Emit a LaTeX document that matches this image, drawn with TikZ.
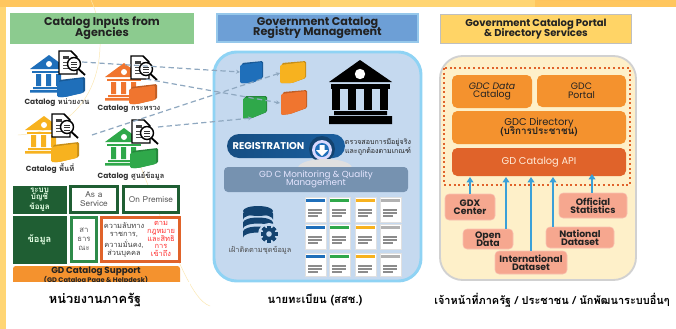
\documentclass[tikz,border=0pt]{standalone}
\usepackage{fontspec}
\setmainfont{Loma}[Script=Thai]
\newfontfamily\hd{Poppins}
\newfontfamily\thf{Loma}[Script=Thai]
\usetikzlibrary{arrows.meta,shapes.geometric}
\definecolor{dgreen}{HTML}{1F5E33}
\definecolor{mgreen}{HTML}{2E8B4A}
\definecolor{apiorange}{HTML}{E0632A}
\definecolor{boxorange}{HTML}{F4922E}
\definecolor{salmon}{HTML}{F6A78F}
\definecolor{arrowblue}{HTML}{3AA0D8}
\definecolor{bluec}{HTML}{1F6FBA}
\definecolor{orangec}{HTML}{F0752F}
\definecolor{yellowc}{HTML}{F7B21F}
\definecolor{greenc}{HTML}{2FA84A}
\definecolor{txt}{HTML}{222222}
\definecolor{hgreen}{HTML}{8CCB8F}
\definecolor{hblue}{HTML}{6D9FD6}
\definecolor{hblueb}{HTML}{96C8EB}
\definecolor{hyellow}{HTML}{FFD466}
\definecolor{pblue}{HTML}{C5D9EF}
\definecolor{pblueb}{HTML}{8FD3F4}
\definecolor{pcream}{HTML}{FEF0C9}
\definecolor{monc}{HTML}{7692B0}
\definecolor{dashc}{HTML}{8FA8C0}
\definecolor{bandA}{HTML}{FFC65E}
\definecolor{bandB}{HTML}{FFD573}
\definecolor{bandC}{HTML}{FFBE55}
\definecolor{faintc}{HTML}{FBE7B0}
\tikzset{
 hdbox/.style={draw=#1,line width=1pt,text=txt,align=center,font=\hd\bfseries\fontsize{8.4}{9}\selectfont,inner sep=0pt},
 gridbox/.style={draw=#1,line width=1.6pt,fill=white,align=center,text=black!65,inner sep=0pt,font=\thf\fontsize{6.2}{6.8}\selectfont},
 solidbox/.style={fill=dgreen,draw=dgreen,text=white!90!green,align=center,inner sep=0pt,font=\thf\bfseries\fontsize{6}{5.4}\selectfont},
 svc/.style={fill=#1,rounded corners=4pt,align=center,inner sep=0pt,text=txt},
 src/.style={fill=salmon,draw=salmon!70!white,line width=.4pt,rounded corners=3pt,align=center,inner sep=0pt,text=txt,font=\hd\bfseries\fontsize{7}{7.6}\selectfont},
 feed/.style={line width=1.7pt,draw=arrowblue,-{Triangle[length=4pt,width=5pt]}},
 dashline/.style={draw=dashc,line width=.9pt,dash pattern=on 4pt off 2.5pt,-{Stealth[length=3pt,width=3pt]}},
 capt/.style={font=\thf\bfseries\fontsize{#1}{11}\selectfont,text=black,inner sep=0pt},
 ilabel/.style={font=\thf\bfseries\fontsize{5.6}{6}\selectfont,text=black!80,inner sep=0pt},
 faint/.style={draw=faintc,line width=.35pt}
}
\newcommand{\bankico}[3]{\begin{scope}[shift={(#1,#2)}]
 \fill[#3] (0,14)--(19,0)--(38,14)--cycle;
 \fill[white] (19,9) circle (3);
 \fill[#3] (2,16) rectangle (36,18);
 \fill[#3] (6,19) rectangle (11,31) (16,19) rectangle (21,31) (26,19) rectangle (31,31);
 \fill[#3] (3,32) rectangle (35,34) (0,35) rectangle (38,37.5);
\end{scope}}
\newcommand{\docmag}[2]{\begin{scope}[shift={(#1,#2)}]
 \draw[fill=white,line width=1.1pt] (0,0)--(12,0)--(18,6)--(18,23)--(0,23)--cycle;
 \fill[black!75] (4,5) rectangle (10,8);
 \draw[black!70,line width=.7pt] (4,11)--(10,11) (4,14)--(10,14) (4,17)--(10,17);
 \draw[fill=white,line width=1.1pt] (15,13) circle (6.5);
 \draw[black!80,line width=.7pt] (12,11)--(18,11) (12,13.5)--(18,13.5) (12,16)--(18,16);
 \draw[line width=1.4pt] (19.5,18)--(26,24);
\end{scope}}
\newcommand{\foldico}[3]{\begin{scope}[shift={(#1,#2)}]
 \fill[#3!80!black,rounded corners=1pt] (2,3)--(28,0)--(28,15)--(8,20)--(2,20)--cycle;
 \fill[#3,rounded corners=1pt] (0,5)--(26,1.5)--(26,16)--(8,20)--(0,20)--cycle;
\end{scope}}
\newcommand{\midfold}[6]{% colour, then top-left, top-right, right-bottom, bottom-mid, bottom-left
 \fill[#1!80!black,rounded corners=1pt] ([shift={(2,-2)}]#2)--([shift={(1,-1)}]#3)--([shift={(1,0)}]#4)--(#5)--(#6)--cycle;
 \fill[#1,rounded corners=1pt] (#2)--(#3)--(#4)--(#5)--(#6)--cycle;}
\newcommand{\cardico}[3]{\begin{scope}[shift={(#1,#2)}]
 \fill[white,draw=black!12,line width=.4pt] (0,0) rectangle (21,#3);
 \draw[black!45,line width=.8pt] (3,13)--(17,13) (3,16)--(17,16) (3,19)--(13,19);
\end{scope}}
\begin{document}
\begin{tikzpicture}[x=0.75pt,y=-0.75pt]
\useasboundingbox (0,0) rectangle (676,329);
% background
\fill[white] (0,0) rectangle (676,329);
\fill[bandB] (0,0) rectangle (6,329);
\fill[bandA] (0,0) rectangle (676,7);
\fill[bandB] (320,0) rectangle (535,7);
\fill[bandC] (537,0) arc[start angle=180,end angle=360,x radius=60,y radius=7] -- cycle;
% faint arcs
\draw[faint] (91,0) .. controls (112,45) and (100,130) .. (18,135);
\draw[faint] (140,165) .. controls (170,240) and (190,300) .. (210,306);
% panel 1
\node[hdbox=hgreen,fill=hgreen,minimum width=183*0.75pt,minimum height=29*0.75pt] (h1) at (102,28.5) {Catalog Inputs from\\[-2pt]Agencies};
\bankico{30}{55}{bluec}
\foldico{57}{77}{bluec}
\docmag{59}{51}
\node[ilabel] (c1) at (57,103) {{\hd\bfseries Catalog} หน่วยงาน};
\bankico{105}{63}{orangec}
\foldico{129}{84}{orangec}
\docmag{131}{56}
\node[ilabel] (c2) at (129,109) {{\hd\bfseries Catalog} กระทรวง};
\bankico{25}{116}{yellowc}
\foldico{51}{142}{yellowc}
\docmag{52}{114}
\node[ilabel] (c3) at (50,169) {{\hd\bfseries Catalog} พื้นที่};
\bankico{105}{128}{greenc}
\foldico{130}{148}{greenc}
\docmag{132}{120}
\node[ilabel] (c4) at (131,176) {{\hd\bfseries Catalog} ศูนย์ข้อมูล};
% bottom-left grid
\node[solidbox,minimum width=53*0.75pt,minimum height=27*0.75pt] (g1) at (39.5,199.5) {ระบบ\\บัญชี\\ข้อมูล};
\node[gridbox=dgreen,minimum width=47*0.75pt,minimum height=26*0.75pt] (g2) at (94,199.5) {As a\\Service};
\node[gridbox=dgreen,minimum width=55*0.75pt,minimum height=26*0.75pt] (g3) at (151,199.5) {On Premise};
\node[solidbox,minimum width=53*0.75pt,minimum height=47*0.75pt,font=\thf\bfseries\fontsize{7}{8}\selectfont] (g4) at (39.5,239.5) {ข้อมูล};
\node[gridbox=mgreen,minimum width=25*0.75pt,minimum height=44*0.75pt,font=\thf\fontsize{5.8}{6.6}\selectfont] (g5) at (84,239.5) {สา\\ธาร\\ณะ};
\node[gridbox=apiorange,minimum width=78*0.75pt,minimum height=44*0.75pt] (g6) at (140.5,239.5) {};
\node[align=center,inner sep=0pt,text=black!75,font=\thf\fontsize{5.6}{6.2}\selectfont] (g6a) at (124,240) {ความลับทาง\\ราชการ,\\ความมั่นคง,\\ส่วนบุคคล};
\node[align=center,inner sep=0pt,text=red!75!pink,font=\thf\fontsize{5.6}{5.9}\selectfont] (g6b) at (161,239) {ตาม\\กฎหมาย\\และสิทธิ\\การ\\เข้าถึง};
\fill[boxorange,rounded corners=2pt] (13,266) rectangle (180,285);
\node[inner sep=0pt,text=txt,font=\hd\bfseries\fontsize{6.6}{8}\selectfont] (s1) at (96,271.5) {GD Catalog Support};
\node[inner sep=0pt,text=txt,font=\hd\bfseries\fontsize{5}{6}\selectfont] (s2) at (96,280) {(GD Catalog Page \& Helpdesk)};
\fill[white] (10,281.5) rectangle (190,290);
\node[capt=9.6] (cap1) at (95,300) {หน่วยงานภาครัฐ};
% panel 2
\node[hdbox=hblueb,fill=hblue,minimum width=201*0.75pt,minimum height=28*0.75pt] (h2) at (317.5,28) {Government Catalog\\[-2pt]Registry Management};
\filldraw[fill=pblue,draw=pblueb,line width=2.2pt,rounded corners=17pt] (214,52) rectangle (421,281);
\midfold{bluec}{240,65}{262,62}{262,78}{252,83}{240,83}
\midfold{yellowc}{280,65}{305,62}{305,78}{292,83}{280,83}
\midfold{greenc}{243,98}{266,97}{266,112}{252,118}{243,119}
\midfold{orangec}{281,94}{306,91}{306,108}{290,114}{281,115}
\coordinate (tblue) at (240,72);
\coordinate (tyellow) at (280,73);
\coordinate (tgreen) at (252,118);
\coordinate (torange) at (280,103);
\coordinate (sblue) at (82,62);
\coordinate (sorange) at (146,79);
\coordinate (syellow) at (92,135);
\coordinate (sgreen) at (158,127);
\draw[dashline] (sblue)--(tblue);
\draw[dashline] (sorange)--(torange);
\draw[dashline] (syellow)--(tyellow);
\draw[dashline] (sgreen)--(tgreen);
% black bank
\fill[black] (329,82)--(360,60)--(392,82)--cycle;
\fill[white] (360,74) circle (5.2);
\fill[black] (331,84) rectangle (390,89);
\foreach \c in {336,352,368,384}{\fill[black] (\c-4,89) rectangle (\c+4,110);}
\fill[black] (334,111) rectangle (387,115) (329,116) rectangle (392,124);
% registration
\shade[left color=bluec!70!black,right color=bluec!85!black,rounded corners=9pt] (227,134) rectangle (345,158);
\node[inner sep=0pt,text=white,font=\hd\bfseries\fontsize{7.4}{9}\selectfont] (reg) at (268.5,146) {REGISTRATION};
\fill[bluec!60!black] (322,149) circle (13);
\fill[white!85!blue] (322,150) circle (10);
\fill[bluec] (322,150) circle (7);
\fill[white] (319.5,145) rectangle (324.5,150) (316,150)--(328,150)--(322,156)--cycle;
\node[align=center,inner sep=0pt,text=txt,font=\thf\fontsize{5.3}{6.2}\selectfont] (regt) at (378,147) {ตรวจสอบการมีอยู่จริง\\และถูกต้องตามเกณฑ์};
\fill[black!12] (325,168) ellipse (27 and 9);
\node[fill=monc,rounded corners=3pt,minimum width=184*0.75pt,minimum height=25*0.75pt,align=center,inner sep=0pt,text=white!90!blue,font=\hd\fontsize{6.6}{6.8}\selectfont] (mon) at (316,179.5) {GD C Monitoring \& Quality\\[-1pt]Management};
% database icon
\fill[bluec!60!black] (258,211) ellipse (15 and 5);
\foreach \yy in {213.5,222.5,231.5}{
\fill[bluec!60!black] (243,\yy)--(243,\yy+6) arc[start angle=180,end angle=360,x radius=15,y radius=5]--(273,\yy) arc[start angle=360,end angle=180,x radius=15,y radius=5]--cycle;}
\fill[pblue] (269,234) circle (11);
\foreach \a in {0,45,...,315}{\fill[bluec!60!black,rotate around={\a:(269,234)}] (267.2,225.5) rectangle (270.8,242.5);}
\fill[bluec!60!black] (269,234) circle (6.3);
\fill[pblue] (269,234) circle (2.8);
\node[inner sep=0pt,text=black!70,font=\thf\fontsize{5.5}{6}\selectfont] (dbt) at (260,250) {เฝ้าติดตามชุดข้อมูล};
% cards
\foreach \px/\w in {305/bluec,329/greenc,355/yellowc,380/black!30}{
 \foreach \py/\hh in {197/25,224/25,253/23}{
  \cardico{\px}{\py}{\hh}
  \fill[\w] (\px+1,\py+2) rectangle (\px+20,\py+5);
 }}
\node[capt=8.4] (cap2) at (315,300) {นายทะเบียน (สสช.)};
% panel 3
\node[hdbox=black!25,fill=hyellow,minimum width=191*0.75pt,minimum height=29*0.75pt,font=\hd\bfseries\fontsize{7.5}{9}\selectfont] (h3) at (536,29) {Government Catalog Portal\\[-2pt]\& Directory Services};
\filldraw[fill=pcream,draw=black!18,line width=1.4pt,rounded corners=17pt] (440,56) rectangle (636,280);
\node[svc=boxorange,minimum width=80*0.75pt,minimum height=33*0.75pt,font=\hd\fontsize{7}{7.6}\selectfont] (b1) at (492,91.5) {{\itshape GDC Data}\\[-1pt]Catalog};
\node[svc=boxorange,minimum width=89*0.75pt,minimum height=32*0.75pt,font=\hd\fontsize{7}{7.6}\selectfont] (b2) at (581.5,91) {GDC\\[-1pt]Portal};
\node[svc=boxorange,minimum width=174*0.75pt,minimum height=33*0.75pt,font=\hd\fontsize{7.4}{8}\selectfont] (b3) at (539,127.5) {GDC Directory\\[-1pt]{\thf\bfseries (บริการประชาชน)}};
\node[svc=apiorange,minimum width=174*0.75pt,minimum height=28*0.75pt,text=white!85!orange,font=\hd\fontsize{7.4}{8.8}\selectfont] (b4) at (539,162) {GD Catalog API};
\draw[apiorange,line width=1.5pt,dotted] (444,68) rectangle (630,184.5);
\node[src,minimum width=50*0.75pt,minimum height=26*0.75pt] (d1) at (470,207) {GDX\\[-1.5pt]Center};
\node[src,minimum width=50*0.75pt,minimum height=20*0.75pt] (d2) at (488,239) {Open\\[-1.5pt]Data};
\node[src,minimum width=68*0.75pt,minimum height=21*0.75pt] (d4) at (580,237.5) {National\\[-1.5pt]Dataset};
\node[src,minimum width=68*0.75pt,minimum height=25*0.75pt] (d5) at (593,205.5) {Official\\[-1.5pt]Statistics};
\coordinate (a1) at (470,177);
\coordinate (a2) at (506,177);
\coordinate (a3) at (531,177);
\coordinate (a4) at (553,177);
\coordinate (a5) at (592,174);
\draw[feed] (d1.north -| a1)--(a1);
\draw[feed] (d2.north -| a2)--(a2);
\draw[feed] (d4.north -| a4)--(a4);
\draw[feed] (d5.north -| a5)--(a5);
\node[src,minimum width=72*0.75pt,minimum height=23*0.75pt] (d3) at (531,262.5) {International\\[-1.5pt]Dataset};
\draw[feed] (d3.north)--(a3);
\node[capt=8.2] (cap3) at (552,300) {เจ้าหน้าที่ภาครัฐ / ประชาชน / นักพัฒนาระบบอื่นๆ};
\end{tikzpicture}
\end{document}
